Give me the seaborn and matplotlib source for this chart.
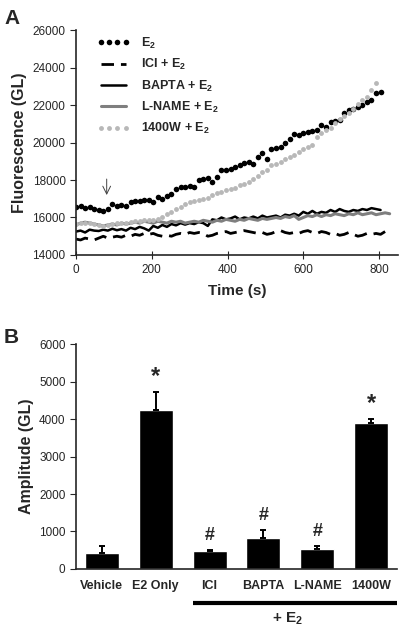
import numpy as np
import pandas as pd
import matplotlib
matplotlib.use('Agg')
import matplotlib.pyplot as plt
import matplotlib.transforms as mtransforms
import seaborn as sns

# ---- Panel A data: fluorescence time courses (12 s steps) ----
step = 12
e2 = [16580, 16620, 16500, 16560, 16480, 16420, 16350, 16480, 16720, 16600,
      16650, 16600, 16820, 16870, 16900, 16920, 16960, 16830, 17100, 17000,
      17130, 17270, 17540, 17620, 17650, 17700, 17630, 17980, 18050, 18100,
      17900, 18160, 18530, 18560, 18580, 18700, 18800, 18900, 18960, 18880,
      19230, 19440, 19100, 19650, 19700, 19760, 19970, 20200, 20450, 20400,
      20500, 20560, 20600, 20670, 20930, 20850, 21100, 21150, 21200, 21570,
      21730, 21800, 21900, 22000, 22160, 22270, 22640, 22720]
w1400 = [15650, 15700, 15720, 15680, 15650, 15600, 15550, 15600, 15650, 15680,
         15700, 15720, 15750, 15800, 15820, 15850, 15880, 15850, 15900, 16050,
         16210, 16300, 16450, 16550, 16700, 16830, 16880, 16930, 16980, 17030,
         17200, 17300, 17360, 17470, 17530, 17600, 17730, 17800, 17900, 18050,
         18200, 18430, 18550, 18800, 18880, 18960, 19100, 19230, 19330, 19500,
         19650, 19750, 19870, 20300, 20500, 20650, 20800, 21050, 21250, 21400,
         21600, 21800, 22050, 22250, 22430, 22800, 23170]
bapta = [15250, 15300, 15200, 15350, 15300, 15280, 15350, 15300, 15400, 15320,
         15380, 15300, 15450, 15380, 15500, 15420, 15300, 15550, 15450, 15600,
         15500, 15650, 15580, 15700, 15620, 15700, 15650, 15750, 15700, 15550,
         15900, 15850, 16000, 15900, 15950, 16050, 15900, 16000, 15950, 16050,
         15950, 16100, 16000, 16050, 16100, 16000, 16150, 16100, 16200, 16100,
         16300, 16200, 16350, 16200, 16300, 16250, 16400, 16300, 16450, 16350,
         16300, 16400, 16350, 16450, 16400, 16500, 16450, 16400]
lname = [15600, 15700, 15750, 15700, 15650, 15600, 15550, 15600, 15650, 15600,
         15700, 15650, 15700, 15750, 15700, 15800, 15750, 15700, 15800, 15750,
         15700, 15800, 15750, 15800, 15700, 15750, 15800, 15750, 15850, 15800,
         15750, 15850, 15800, 15900, 15850, 15800, 15900, 15850, 15950, 15900,
         15850, 15950, 15900, 15950, 16000, 15950, 16050, 16000, 16100, 15900,
         16000, 16100, 16050, 16150, 16050, 16150, 16100, 16200, 16150, 16100,
         16200, 16150, 16250, 16150, 16200, 16250, 16150, 16200, 16250, 16200]
ici = [14850, 14800, 14900, 14850, 14800, 14900, 15000, 14900, 14950, 15000,
       14950, 15050, 15000, 15100, 15050, 15150, 15100, 15150, 15050, 15000,
       15050, 15000, 15100, 15150, 15100, 15200, 15150, 15200, 15150, 15000,
       15050, 15150, 15200, 15250, 15150, 15200, 15250, 15300, 15250, 15200,
       15150, 15200, 15100, 15150, 15250, 15300, 15200, 15150, 15200, 15150,
       15250, 15300, 15200, 15150, 15250, 15200, 15100, 15150, 15050, 15100,
       15200, 15100, 15000, 15050, 15150, 15100, 15150, 15100, 15250, 15350]

# ---- Panel B data: amplitudes ----
groups = ['Vehicle', 'E2 Only', 'ICI', 'BAPTA', 'L-NAME', '1400W']
amp = [430, 4230, 480, 830, 530, 3890]
amp_err = [170, 480, 35, 210, 80, 100]
marks = ['', '*', '#', '#', '#', '*']

sns.set_style('ticks')
plt.rcParams['font.family'] = ['Liberation Sans', 'DejaVu Sans']
plt.rcParams['mathtext.fontset'] = 'custom'
plt.rcParams['mathtext.bf'] = 'Liberation Sans:bold'
plt.rcParams['mathtext.rm'] = 'Liberation Sans:bold'
plt.rcParams['mathtext.default'] = 'bf'

fig = plt.figure(figsize=(4.0, 6.28), dpi=100)
axA = fig.add_axes([0.19, 0.594, 0.805, 0.358])
axB = fig.add_axes([0.19, 0.094, 0.8025, 0.358])


def times(vals):
    return np.arange(len(vals)) * step


sns.lineplot(x=times(e2), y=e2, ax=axA, color='black', marker='o', markersize=4,
             markeredgewidth=0, linestyle='', label='E$_2$')
sns.lineplot(x=times(ici), y=ici, ax=axA, color='black', linewidth=2,
             dashes=False, label='ICI + E$_2$').lines[-1].set_dashes([4.5, 2.5])
sns.lineplot(x=times(bapta), y=bapta, ax=axA, color='black', linewidth=1.8,
             label='BAPTA + E$_2$')
sns.lineplot(x=times(lname), y=lname, ax=axA, color='#7f7f7f', linewidth=2.2,
             label='L-NAME + E$_2$')
sns.lineplot(x=times(w1400), y=w1400, ax=axA, color='#b8b8b8', marker='o',
             markersize=3.5, markeredgewidth=0, linestyle='', label='1400W + E$_2$')

axA.set_xlim(0, 850)
axA.set_ylim(14000, 26000)
axA.set_xticks([0, 200, 400, 600, 800])
axA.set_yticks(range(14000, 26001, 2000))
axA.tick_params(axis='y', direction='out', length=4, labelsize=8.5)
axA.tick_params(axis='x', direction='inout', length=6, labelsize=8.5)
axA.set_xlabel('Time (s)', fontsize=11, fontweight='bold', labelpad=6)
axA.set_ylabel('Fluorescence (GL)', fontsize=11.5, fontweight='bold', labelpad=4)
sns.despine(ax=axA)
for s in ['left', 'bottom']:
    axA.spines[s].set_linewidth(1.2)
axA.annotate('', xy=(81, 17050), xytext=(81, 18200),
             arrowprops=dict(arrowstyle='->', color='#444444', lw=0.7,
                             mutation_scale=14))
leg = axA.legend(loc='upper left', bbox_to_anchor=(0.03, 1.025), frameon=False,
                 numpoints=4, handlelength=2.6, handletextpad=0.9,
                 labelspacing=0.5, prop={'size': 9, 'weight': 'bold'})

# ---- Panel B ----
df = pd.DataFrame({'group': groups, 'amp': amp})
sns.barplot(data=df, x='group', y='amp', ax=axB, color='black', width=0.63,
            saturation=1, errorbar=None)
xs = np.arange(len(groups))
axB.errorbar(xs, amp, yerr=[np.zeros(len(amp)), amp_err], fmt='none',
             ecolor='black', elinewidth=1.4, capsize=2.5, capthick=1.4)
for x, a, e, m in zip(xs, amp, amp_err, marks):
    if m == '*':
        axB.text(x, a + e + 120, m, ha='center', va='bottom', fontsize=17,
                 fontweight='bold')
    elif m == '#':
        axB.text(x, a + e + 150, m, ha='center', va='bottom', fontsize=13,
                 fontweight='bold')

axB.set_xlim(-0.48, 5.48)
axB.set_ylim(0, 6000)
axB.set_yticks(range(0, 6001, 1000))
axB.tick_params(axis='y', direction='out', length=4, labelsize=8.5)
axB.tick_params(axis='x', length=0, labelsize=9, pad=8)
for lbl in axB.get_xticklabels():
    lbl.set_fontweight('bold')
axB.set_xlabel('')
axB.set_ylabel('Amplitude (GL)', fontsize=11.5, fontweight='bold', labelpad=4)
sns.despine(ax=axB)
for s in ['left', 'bottom']:
    axB.spines[s].set_linewidth(1.2)

trans = mtransforms.blended_transform_factory(axB.transData, axB.transAxes)
axB.plot([1.69, 5.48], [-0.151, -0.151], color='black', linewidth=3,
         transform=trans, clip_on=False, solid_capstyle='butt')
axB.text(3.45, -0.185, '+ E$_2$', transform=trans, ha='center', va='top',
         fontsize=11, fontweight='bold')

fig.text(0.01, 0.985, 'A', fontsize=15, fontweight='bold', va='top')
fig.text(0.01, 0.478, 'B', fontsize=15, fontweight='bold', va='top')

fig.savefig('out.png', dpi=100)
